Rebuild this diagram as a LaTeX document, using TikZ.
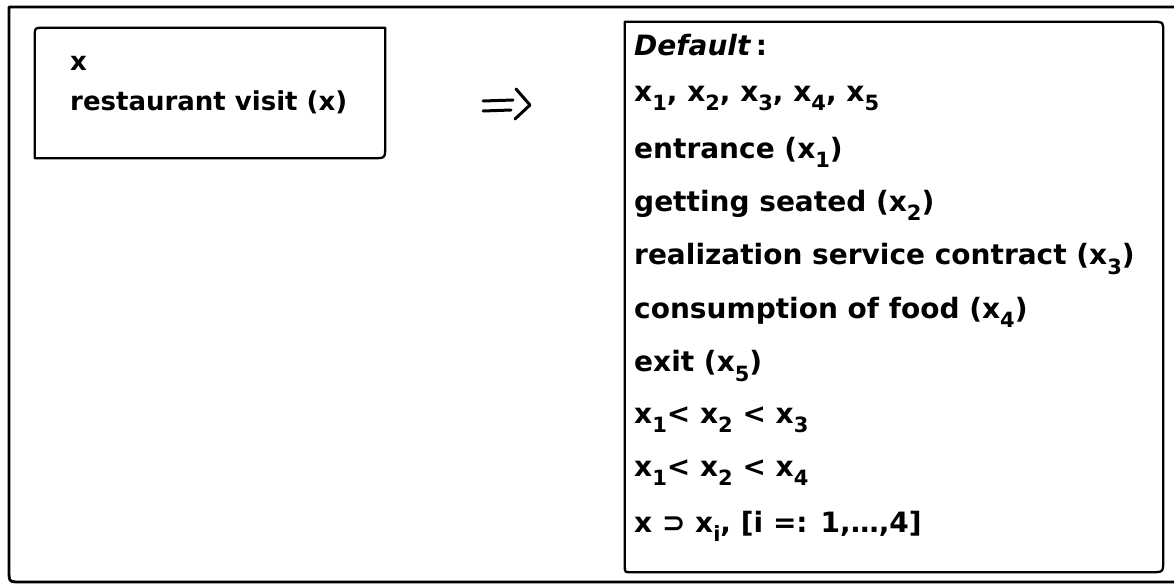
\documentclass[tikz,border=0pt]{standalone}
\usepackage{fontspec}
\setmainfont{DejaVu Sans}[BoldFont={DejaVu Sans Bold},ItalicFont={DejaVu Sans Bold Oblique}]
\usetikzlibrary{calc}
% variable with a lowered index, as in x_1
\newcommand{\xs}[1]{x\raisebox{-0.6ex}{\fontsize{21}{21}\selectfont#1}}
\begin{document}
\begin{tikzpicture}[x=1pt,y=-1pt,line join=round,line cap=round,
  frame/.style={line width=2.8pt},
  box/.style={line width=2.3pt},
  area/.style={inner sep=0pt,draw=none},
  txt/.style={anchor=west,inner sep=0pt,font=\bfseries\fontsize{26}{26}\selectfont},
  rtxt/.style={txt,font=\bfseries\fontsize{28}{28}\selectfont}]
\useasboundingbox (0,0) rectangle (1174,584);

% outer frame, running off the right edge
\draw[frame] (1190,7) -- (9,7) -- (9,570) .. controls (9,582) .. (21,582) -- (1190,582);

% left box: the situation
\node[area,minimum width=350pt,minimum height=130pt] (lbox) at (210,93) {};
\draw[box] (lbox.north east) -- ($(lbox.north west)+(8,0)$)
  .. controls (lbox.north west) .. ($(lbox.north west)+(0,8)$)
  -- (lbox.south west) -- ($(lbox.south east)+(-12,0)$)
  .. controls (lbox.south east) .. ($(lbox.south east)+(0,-12)$) -- cycle;
\node[txt] (lx) at (70,63) {x};
\node[txt] (lr) at (70,102) {restaurant visit (x)};

% implication sign
\node[area,minimum width=50pt,minimum height=36pt] (imp) at (505,106) {};
\draw[line width=3pt] ($(imp.center)+(-22,-5)$) -- ($(imp.center)+(8,-6)$);
\draw[line width=3pt] ($(imp.center)+(-22,5)$) -- ($(imp.center)+(6,4)$);
\draw[line width=3pt] ($(imp.center)+(11,-17)$) -- ($(imp.center)+(25,-1)$) -- ($(imp.center)+(10,13)$);

% right box: the default frame
\node[area,minimum width=538pt,minimum height=550pt] (rbox) at (894,297) {};
\draw[box] (rbox.north west) -- ($(rbox.north east)+(-10,0)$)
  .. controls (rbox.north east) .. ($(rbox.north east)+(0,10)$)
  -- ($(rbox.south east)+(0,-12)$)
  .. controls (rbox.south east) .. ($(rbox.south east)+(-12,0)$)
  -- ($(rbox.south west)+(6,0)$)
  .. controls (rbox.south west) .. ($(rbox.south west)+(0,-6)$) -- cycle;

\foreach \t [count=\k from 0] in {
  {\textit{Default}\,:},
  {\xs{1}, \xs{2}, \xs{3}, \xs{4}, \xs{5}},
  {entrance (\xs{1})},
  {getting seated (\xs{2})},
  {realization service contract (\xs{3})},
  {consumption of food (\xs{4})},
  {exit (\xs{5})},
  {\xs{1}< \xs{2} < \xs{3}},
  {\xs{1}< \xs{2} < \xs{4}},
  {x ⊃ \xs{i}, [i =: 1,…,4]}}
  \node[rtxt] (r\k) at (634,{45+53.5*\k}) {\t};
\end{tikzpicture}
\end{document}
